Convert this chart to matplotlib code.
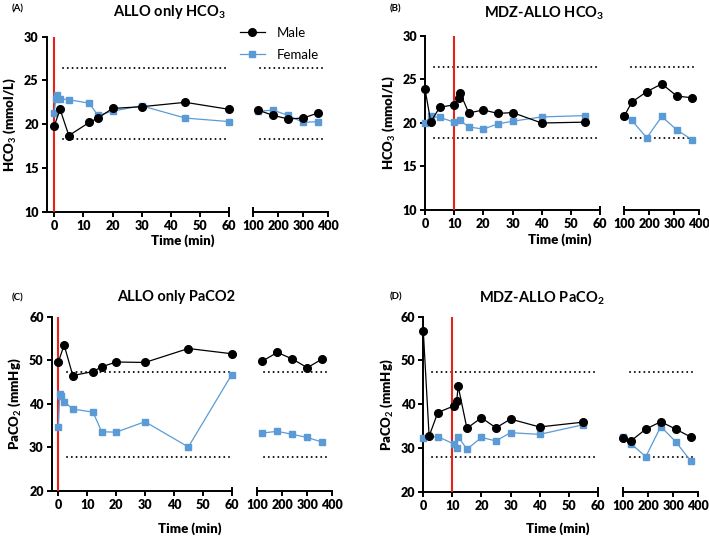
import matplotlib
matplotlib.use("Agg")
import matplotlib.pyplot as plt
from matplotlib.lines import Line2D

plt.rcParams['font.family'] = ['Lato', 'DejaVu Sans']
plt.rcParams['font.weight'] = 'bold'
plt.rcParams['axes.labelweight'] = 'bold'
plt.rcParams['mathtext.fontset'] = 'custom'
plt.rcParams['mathtext.rm'] = 'Lato:bold'
plt.rcParams['mathtext.bf'] = 'Lato:bold'
plt.rcParams['mathtext.it'] = 'Lato:italic:bold'

# ---------------- data ----------------
# Panel A: ALLO only HCO3
tA_male = [0, 2, 5, 12, 15, 20, 30, 45, 60]
A_male = [19.8, 21.7, 18.7, 20.2, 20.7, 21.8, 22.0, 22.5, 21.7]
tA_female = [0, 0.5, 1, 2, 5, 12, 15, 20, 30, 45, 60]
A_female = [21.3, 22.9, 23.3, 22.9, 22.8, 22.4, 21.0, 21.5, 22.1, 20.7, 20.3]
tA_late = [120, 180, 240, 300, 360]
A_male_late = [21.6, 21.0, 20.6, 20.7, 21.3]
A_female_late = [21.5, 21.6, 21.0, 20.2, 20.3]

# Panel B: MDZ-ALLO HCO3
tB_male = [0, 2, 5, 10, 11.5, 12, 15, 20, 25, 30, 40, 55]
B_male = [23.9, 20.1, 21.8, 22.1, 22.9, 23.5, 21.15, 21.5, 21.1, 21.2, 20.0, 20.1]
tB_female = [0, 2, 5, 10, 12, 15, 20, 25, 30, 40, 55]
B_female = [20.0, 20.75, 20.65, 20.1, 20.3, 19.55, 19.3, 19.9, 20.2, 20.7, 20.85]
tB_late = [100, 130, 190, 250, 310, 370]
B_male_late = [20.8, 22.4, 23.6, 24.5, 23.1, 22.9]
B_female_late = [20.85, 20.3, 18.3, 20.75, 19.2, 18.1]

# Panel C: ALLO only PaCO2
tC_male = [0, 2, 5, 12, 15, 20, 30, 45, 60]
C_male = [49.6, 53.5, 46.5, 47.4, 48.5, 49.6, 49.5, 52.7, 51.5]
tC_female = [0, 0.5, 1, 2, 5, 12, 15, 20, 30, 45, 60]
C_female = [34.6, 42.2, 41.9, 40.5, 38.8, 38.1, 33.6, 33.5, 35.9, 30.1, 46.7]
tC_late = [120, 180, 240, 300, 360]
C_male_late = [49.8, 51.8, 50.3, 48.3, 50.3]
C_female_late = [33.3, 33.7, 33.0, 32.3, 31.2]

# Panel D: MDZ-ALLO PaCO2
tD_male = [0, 2, 5, 10.5, 11.5, 12, 15, 20, 25, 30, 40, 55]
D_male = [56.7, 32.7, 38.1, 39.6, 40.8, 44.1, 34.5, 36.9, 34.6, 36.6, 34.8, 35.9]
tD_female = [0, 5, 10.5, 11.5, 12, 15, 20, 25, 30, 40, 55]
D_female = [32.3, 32.6, 30.9, 30.0, 32.6, 29.7, 32.4, 31.6, 33.5, 33.1, 35.3]
tD_late = [100, 130, 190, 250, 310, 370]
D_male_late = [32.3, 31.6, 34.3, 36.0, 34.3, 32.5]
D_female_late = [32.6, 31.0, 28.0, 34.9, 31.4, 27.0]

# reference (normal range) lines
HCO3_ref = [26.4, 18.3]
PaCO2_ref = [47.3, 27.9]
ref_early_span = [3, 59]
ref_late_span = [125, 385]

# dose time (red line)
dose_A = 0
dose_B = 10

HCO3_ticks = [10, 15, 20, 25, 30]
PaCO2_ticks = [20, 30, 40, 50, 60]
early_ticks = [0, 10, 20, 30, 40, 50, 60]
late_ticks = [100, 200, 300, 400]

BLUE = '#5b9bd5'
HEAVY = 'heavy'
W, H = 709, 537
fig = plt.figure(figsize=(W / 100, H / 100), dpi=100)


def rect(x0, x1, ytop, ybot):
    return [x0 / W, 1 - ybot / H, (x1 - x0) / W, (ybot - ytop) / H]


def panel(L, R, xmin, ylim, yticks, ref, dose,
          tm, m, tf, f, tl, ml, fl, ylabel):
    axL = fig.add_axes(L)
    axR = fig.add_axes(R)
    for ax, t1, y1, t2, y2 in [(axL, tm, m, tf, f), (axR, tl, ml, tl, fl)]:
        ax.plot(t2, y2, '-', color=BLUE, lw=0.9, marker='s', ms=5,
                mfc=BLUE, mec=BLUE, clip_on=False, zorder=4)
        ax.plot(t1, y1, '-', color='black', lw=0.9, marker='o', ms=5.5,
                clip_on=False, zorder=5)
        ax.set_ylim(*ylim)
        ax.set_yticks(yticks)
        for s in ['top', 'right']:
            ax.spines[s].set_visible(False)
        for s in ['left', 'bottom']:
            ax.spines[s].set_linewidth(1.4)
        ax.tick_params(width=1.4, length=3.8, labelsize=9, pad=2)
    for yv in ref:
        axL.plot(ref_early_span, [yv, yv], color='black', lw=1.4,
                 linestyle=(0, (0.05, 2.4)), dash_capstyle='round', zorder=2)
        axR.plot(ref_late_span, [yv, yv], color='black', lw=1.4,
                 linestyle=(0, (0.05, 2.4)), dash_capstyle='round', zorder=2)
    axL.axvline(dose, color='#e8201a', lw=1.5, zorder=3)
    axL.set_xlim(xmin, 60)
    axL.set_xticks(early_ticks)
    axR.set_xlim(100, 400)
    axR.set_xticks(late_ticks)
    axR.spines['left'].set_visible(False)
    axR.tick_params(left=False, labelleft=False)
    for ax in (axL, axR):
        for lab in ax.get_xticklabels() + ax.get_yticklabels():
            lab.set_fontweight(HEAVY)
    # axis break caps
    axL.plot([1, 1], [0, 0.025], transform=axL.transAxes, color='black',
             lw=1.4, clip_on=False, solid_capstyle='butt')
    axR.plot([0, 0], [0, 0.025], transform=axR.transAxes, color='black',
             lw=1.4, clip_on=False, solid_capstyle='butt')
    axL.set_ylabel(ylabel, fontsize=9.5, labelpad=4, fontweight=HEAVY)
    return axL, axR


axA, axAr = panel(rect(46.7, 229, 36.7, 211.7), rect(253.3, 328.3, 36.7, 211.7),
                  -2.6, (10, 30), HCO3_ticks, HCO3_ref, dose_A,
                  tA_male, A_male, tA_female, A_female,
                  tA_late, A_male_late, A_female_late,
                  r'HCO$_\mathbf{3}$ (mmol/L)')
axB, axBr = panel(rect(425, 600, 36, 210), rect(624.3, 699.3, 36, 210),
                  0, (10, 30), HCO3_ticks, HCO3_ref, dose_B,
                  tB_male, B_male, tB_female, B_female,
                  tB_late, B_male_late, B_female_late,
                  r'HCO$_\mathbf{3}$ (mmol/L)')
axC, axCr = panel(rect(51.7, 231.7, 316.7, 491), rect(257.3, 332.3, 316.7, 491),
                  -2.3, (20, 60), PaCO2_ticks, PaCO2_ref, dose_A,
                  tC_male, C_male, tC_female, C_female,
                  tC_late, C_male_late, C_female_late,
                  r'PaCO$_\mathbf{2}$ (mmHg)')
axD, axDr = panel(rect(423.3, 597.7, 316.7, 491.7), rect(623.3, 698.3, 316.7, 491.7),
                  0, (20, 60), PaCO2_ticks, PaCO2_ref, dose_B,
                  tD_male, D_male, tD_female, D_female,
                  tD_late, D_male_late, D_female_late,
                  r'PaCO$_\mathbf{2}$ (mmHg)')

# titles, panel letters, x labels
def ftext(x, y, s, **kw):
    fig.text(x / W, 1 - y / H, s, **kw)

ftext(169, 12, r'ALLO only HCO$_\mathbf{3}$', fontsize=10.5, ha='center', va='center')
ftext(544, 13, r'MDZ-ALLO HCO$_\mathbf{3}$', fontsize=10.5, ha='center', va='center')
ftext(176, 297, 'ALLO only PaCO2', fontsize=10.5, ha='center', va='center')
ftext(542, 298, r'MDZ-ALLO PaCO$_\mathbf{2}$', fontsize=10.5, ha='center', va='center')
for x, y, s in [(12, 9, '(A)'), (390, 9, '(B)'), (12, 298, '(C)'), (390, 297, '(D)')]:
    ftext(x, y, s, fontsize=7, ha='left', va='center')
for x, y in [(183, 241), (560, 240), (190, 529), (558, 529)]:
    ftext(x, y, 'Time (min)', fontsize=9.5, ha='center', va='center', fontweight=HEAVY)

handles = [Line2D([], [], color='black', lw=0.9, marker='o', ms=5.5),
           Line2D([], [], color=BLUE, lw=0.9, marker='s', ms=5, mfc=BLUE, mec=BLUE)]
fig.legend(handles, ['Male', 'Female'], loc='upper left',
           bbox_to_anchor=(228 / W, 1 - 15 / H), frameon=False,
           handlelength=1.9, handletextpad=0.9, labelspacing=0.75,
           prop={'size': 9.5, 'weight': 'normal'})

fig.savefig('out.png', dpi=100)
